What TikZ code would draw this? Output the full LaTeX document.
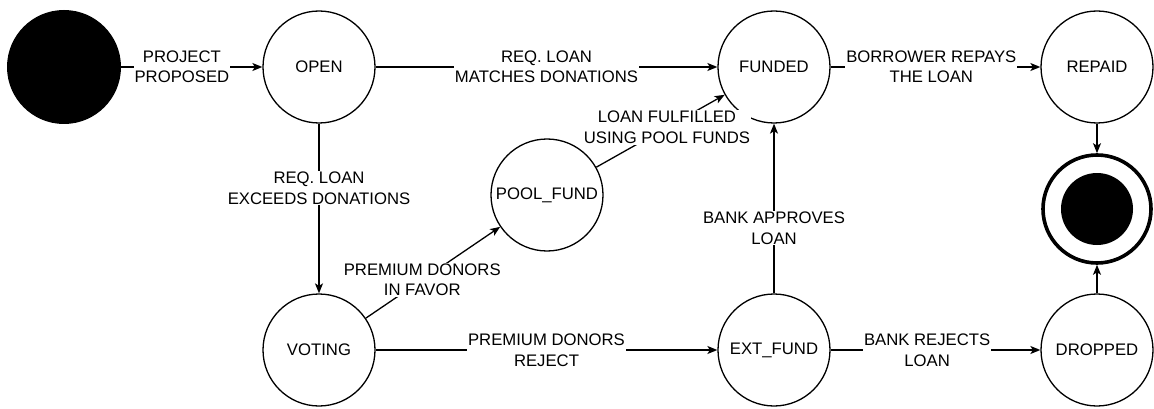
\documentclass[tikz,border=0pt]{standalone}
\usepackage{fontspec}
\setmainfont{Liberation Sans}
\usetikzlibrary{arrows.meta}
\begin{document}
\begin{tikzpicture}[x=1pt,y=-1pt,
  stnode/.style={circle, draw, line width=1.3pt, minimum size=112pt, inner sep=0pt,
    font=\fontsize{16.7}{20.5}\selectfont},
  startdot/.style={circle, fill=black, minimum size=114pt, inner sep=0pt},
  endring/.style={circle, draw, line width=3.6pt, minimum size=108pt, inner sep=0pt},
  endcore/.style={circle, fill=black, minimum size=72pt, inner sep=0pt},
  trans/.style={line width=1.3pt, -{Stealth[length=10pt,width=8pt,inset=2.5pt]}},
  lbl/.style={fill=white, inner sep=1pt, align=center,
    font=\fontsize{16.7}{20.5}\selectfont}
]
\useasboundingbox (0,0) rectangle (1154,409);

% states
\node[startdot] (start) at (64,67) {};
\node[stnode] (open) at (319,67) {OPEN};
\node[stnode] (funded) at (774,67) {FUNDED};
\node[stnode] (repaid) at (1097,67) {REPAID};
\node[stnode] (pool) at (547,195) {POOL\_FUND};
\node[stnode] (voting) at (319,350) {VOTING};
\node[stnode] (ext) at (774,350) {EXT\_FUND};
\node[stnode] (dropped) at (1097,350) {DROPPED};
\node[endring] (end) at (1097,209) {};
\node[endcore] (endc) at (end.center) {};

% transitions
\draw[trans] (start) -- node[lbl, pos=0.43] {PROJECT\\PROPOSED} (open);
\draw[trans] (open) -- node[lbl, pos=0.5] {REQ. LOAN\\MATCHES DONATIONS} (funded);
\draw[trans] (funded) -- node[lbl, pos=0.48] {BORROWER REPAYS\\THE LOAN} (repaid);
\draw[trans] (open) -- node[lbl, pos=0.38] {REQ. LOAN\\EXCEEDS DONATIONS} (voting);
\draw[trans] (voting) -- node[lbl, pos=0.42] {PREMIUM DONORS\\IN FAVOR} (pool);
\draw[trans] (pool) -- node[lbl, pos=0.55] {LOAN FULFILLED\\USING POOL FUNDS} (funded);
\draw[trans] (ext) -- node[lbl, pos=0.385] {BANK APPROVES\\LOAN} (funded);
\draw[trans] (voting) -- node[lbl, pos=0.5] {PREMIUM DONORS\\REJECT} (ext);
\draw[trans] (ext) -- node[lbl, pos=0.46] {BANK REJECTS\\LOAN} (dropped);
\draw[trans] (repaid) -- (end);
\draw[trans] (dropped) -- (end);
\end{tikzpicture}
\end{document}
